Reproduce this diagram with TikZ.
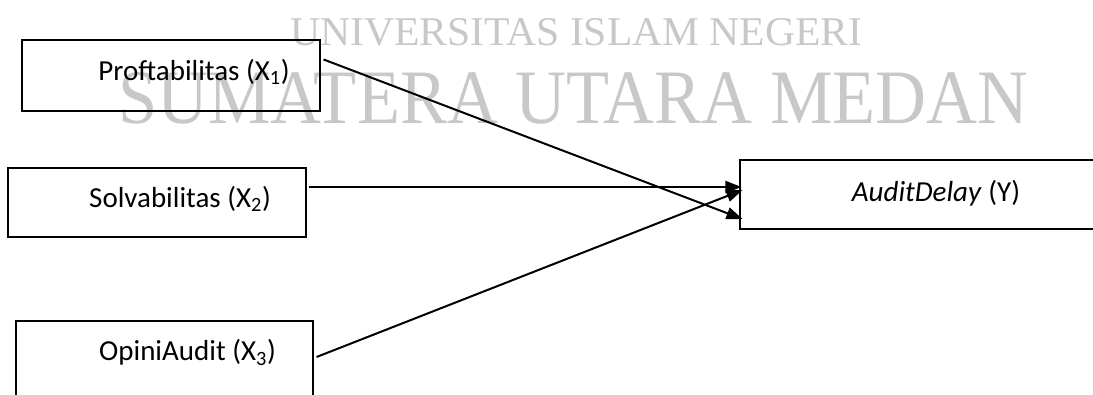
\documentclass[tikz,border=0pt]{standalone}
\usepackage{fontspec}
\setmainfont{Carlito}
\newfontfamily\wmfont{Liberation Serif}
\usetikzlibrary{arrows.meta}
\definecolor{wmgray}{RGB}{200,200,200}
\tikzset{
  varbox/.style={draw, line width=1.1pt, font=\fontsize{29}{34}\selectfont,
    text height=20pt, text depth=11pt, execute at begin node={\hspace*{46pt}}},
  ybox/.style={draw, line width=1.1pt, font=\fontsize{29}{34}\selectfont,
    text height=20pt, text depth=7pt},
  panah/.style={-{Triangle[length=16pt,width=12pt]}, line width=2pt}
}
\begin{document}
\begin{tikzpicture}[x=1pt, y=-1pt]
        \useasboundingbox (0,0) rectangle (1093,394);
        \clip (0,0) rectangle (1093,394);

        % Watermark
        \node[anchor=base west, inner sep=0pt, text=wmgray, font=\wmfont\fontsize{40.8}{45}\selectfont] (univ) at (290,45) {\scalebox{1.02}[1]{UNIVERSITAS ISLAM NEGERI}};
        \node[anchor=base west, inner sep=0pt, text=wmgray, font=\wmfont\fontsize{77}{80}\selectfont] (sumut) at (118,123) {\scalebox{0.915}[1]{SUMATERA UTARA MEDAN}};

        % Variabel bebas
        \node[varbox, minimum width=298pt, minimum height=71pt] (x1) at (171,75.5) {Proftabilitas (X\textsubscript{1})};
        \node[varbox, minimum width=298pt, minimum height=69pt] (x2) at (157,202.5) {Solvabilitas (X\textsubscript{2})};
        \node[varbox, minimum width=297pt, minimum height=79pt, text depth=20pt] (x3) at (164.5,360.5) {OpiniAudit (X\textsubscript{3})};

        % Variabel terikat
        \node[ybox, minimum width=392pt, minimum height=69pt] (y) at (936,194.5) {\textit{AuditDelay} (Y)};

        % Panah
        \draw[panah] ([shift={(3,20)}]x1.north east) -- ([shift={(3,24.5)}]y.west);
        \draw[panah] ([shift={(2,-15.5)}]x2.east) -- ([shift={(2,-7.5)}]y.west);
        \draw[panah] ([shift={(3,-3.5)}]x3.east) -- ([shift={(3,-4.5)}]y.west);
    \end{tikzpicture}
\end{document}
